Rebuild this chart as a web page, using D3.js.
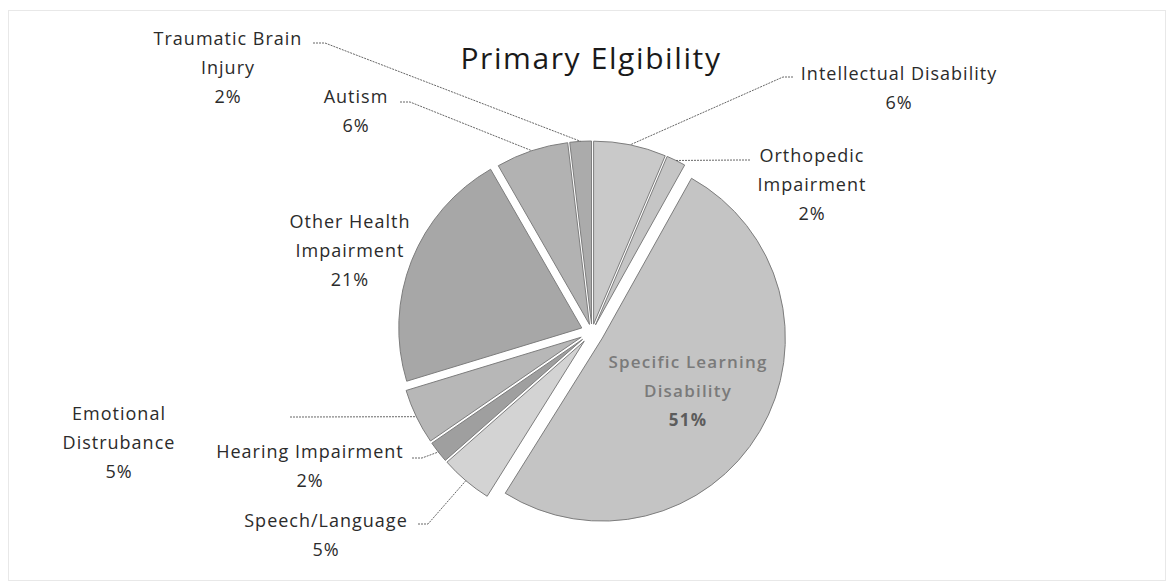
<!doctype html>
<html>
  <head>
    <meta charset="utf-8">
    <title>Primary Elgibility</title>
    <script src="https://d3js.org/d3.v7.min.js"></script>
    <style type="text/css">
      body { margin: 0; background-color: #ffffff; }
      text { font-family: "Open Sans", "DejaVu Sans", sans-serif; }
    </style>
  </head>
  <body>
    <script>
      // data, clockwise from 12 o'clock
      var categories = ["Intellectual Disability", "Orthopedic Impairment", "Specific Learning Disability",
        "Speech/Language", "Hearing Impairment", "Emotional Distrubance", "Other Health Impairment",
        "Autism", "Traumatic Brain Injury"];
      var percents = [6.4, 1.7, 50.8, 4.6, 1.9, 4.9, 21.4, 6.4, 1.9];

      // styling / layout per slice
      var fills = ["#c9c9c9", "#c5c5c5", "#c4c4c4", "#d3d3d3", "#9f9f9f", "#b7b7b7", "#a7a7a7", "#b2b2b2", "#ababab"];
      var explode = [8, 8, 12, 12, 12, 12, 11, 8, 8];
      var firstLineWords = [2, 1, 2, 1, 2, 1, 2, 1, 2];
      // label centre x, first baseline y, leader start [x, y], knee direction
      var labelPos = [
        {x: 899, y: 80, lead: [793, 77], knee: -10},
        {x: 812, y: 162, lead: [750, 160], knee: -10},
        {x: 688, y: 368, lead: null},
        {x: 326, y: 527, lead: [418, 524], knee: 10},
        {x: 310, y: 458, lead: [412, 458], knee: 10},
        {x: 119, y: 420, lead: [290, 417], knee: 10},
        {x: 350, y: 228, lead: null},
        {x: 356, y: 103, lead: [400, 102], knee: 10},
        {x: 228, y: 45, lead: [313, 43], knee: 12}
      ];

      var w = 1171, h = 586;
      var cx = 592, cy = 332, r = 183;
      var lineH = 29;

      var svg = d3.select("body").append("svg")
        .attr("width", w)
        .attr("height", h);

      // faint chart border
      svg.append("rect")
        .attr("x", 8.5).attr("y", 10.5)
        .attr("width", 1157).attr("height", 570)
        .attr("fill", "none")
        .attr("stroke", "#e8e8e8");

      svg.append("text")
        .attr("x", 591).attr("y", 69)
        .attr("text-anchor", "middle")
        .attr("font-size", 30)
        .attr("letter-spacing", 1.6)
        .attr("fill", "#1a1a1a")
        .text("Primary Elgibility");

      var pie = d3.pie().sort(null).value(function(d) { return d; });
      var arcs = pie(percents);
      var arc = d3.arc().innerRadius(0).outerRadius(r);

      function offset(a, i) {
        var m = (a.startAngle + a.endAngle) / 2;
        return [Math.sin(m) * explode[i], -Math.cos(m) * explode[i]];
      }

      var g = svg.append("g").attr("transform", "translate(" + cx + "," + cy + ")");

      g.selectAll("path.slice")
        .data(arcs)
        .enter()
        .append("path")
        .attr("class", "slice")
        .attr("d", arc)
        .attr("transform", function(a, i) { return "translate(" + offset(a, i) + ")"; })
        .attr("fill", function(a, i) { return fills[i]; })
        .attr("stroke", "#7d7d7d")
        .attr("stroke-width", 1);

      // leader lines: label -> knee -> outer arc midpoint
      arcs.forEach(function(a, i) {
        var p = labelPos[i];
        if (!p.lead) return;
        var m = (a.startAngle + a.endAngle) / 2;
        var o = offset(a, i);
        var ex = cx + o[0] + Math.sin(m) * r;
        var ey = cy + o[1] - Math.cos(m) * r;
        svg.append("path")
          .attr("d", d3.line()([p.lead, [p.lead[0] + p.knee, p.lead[1]], [ex, ey]]))
          .attr("fill", "none")
          .attr("stroke", "#555")
          .attr("stroke-width", 0.9)
          .attr("stroke-dasharray", "2,1");
      });

      // labels
      arcs.forEach(function(a, i) {
        var p = labelPos[i];
        var words = categories[i].split(" ");
        var lines = [words.slice(0, firstLineWords[i]).join(" ")];
        if (words.length > firstLineWords[i]) lines.push(words.slice(firstLineWords[i]).join(" "));
        lines.push(Math.round(percents[i]) + "%");
        var inside = !p.lead && i === 2;
        var t = svg.append("text")
          .attr("text-anchor", "middle")
          .attr("font-size", inside ? 17 : 18)
          .attr("letter-spacing", inside ? 1.2 : 1)
          .attr("font-weight", inside ? 600 : 400)
          .attr("fill", inside ? "#7a7a7a" : "#2b2b2b");
        lines.forEach(function(s, k) {
          t.append("tspan")
            .attr("x", p.x)
            .attr("y", p.y + k * (inside ? 29 : lineH))
            .attr("font-weight", inside && k === lines.length - 1 ? 700 : null)
            .attr("fill", inside && k === lines.length - 1 ? "#5c5c5c" : null)
            .text(s);
        });
      });
    </script>
  </body>
</html>
